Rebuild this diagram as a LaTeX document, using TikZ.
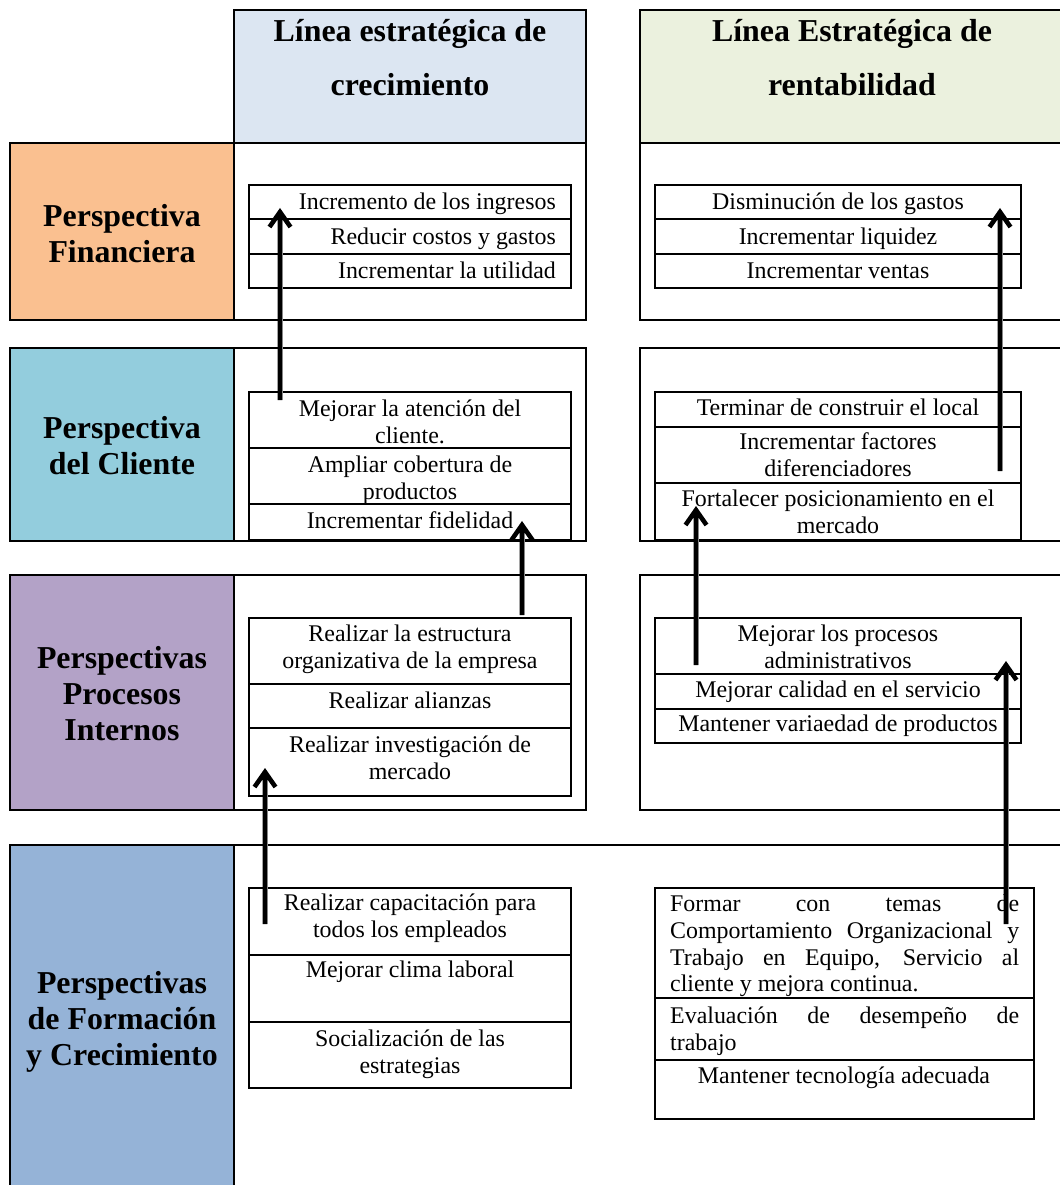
\documentclass[tikz,border=0pt]{standalone}
\usepackage{fontspec}
\setmainfont{Liberation Serif}
\setlength{\parindent}{0pt}
\definecolor{hdrL}{HTML}{DCE6F2}
\definecolor{hdrR}{HTML}{EBF1DE}
\definecolor{finC}{HTML}{FAC090}
\definecolor{cliC}{HTML}{93CDDD}
\definecolor{proC}{HTML}{B3A2C7}
\definecolor{forC}{HTML}{95B3D7}
\begin{document}
\begin{tikzpicture}[x=1bp,y=-1bp,
  frame/.style={draw=black,line width=1.6bp},
  cellline/.style={draw=black,line width=1.5bp},
  body/.style={font=\fontsize{24}{27}\selectfont, inner sep=0pt, anchor=base},
  bodyr/.style={font=\fontsize{24}{27}\selectfont, inner sep=0pt, anchor=base east},
  multi/.style={font=\fontsize{24}{27}\selectfont, inner sep=0pt, anchor=north, yshift=22bp, align=center},
  just/.style={font=\fontsize{24}{27}\selectfont, inner sep=0pt, anchor=north west, yshift=22bp, text width=349bp, align=justify},
  lab/.style={font=\fontsize{32}{36.5}\selectfont\bfseries, inner sep=0pt, anchor=north, yshift=30bp, align=center},
  hdr/.style={font=\fontsize{32}{55}\selectfont\bfseries, inner sep=0pt, anchor=north, yshift=30bp, align=center},
  uparrow/.style={draw=black, line width=4.6bp, line join=miter},
  arrowshade/.style={draw=black!18, line width=5bp, xshift=2.5bp, yshift=-1.5bp}]
\useasboundingbox (0,0) rectangle (1060,1185);
\fill[white] (0,0) rectangle (1060,1185);
% headers
\fill[hdrL] (234,10) rectangle (586,143);
\draw[frame] (234,10) rectangle (586,143);
\fill[hdrR] (640,10) rectangle (1066,143);
\draw[frame] (640,10) rectangle (1066,143);
% row 1
\fill[finC] (10,143) rectangle (234,320);
\draw[frame] (10,143) rectangle (234,320);
\draw[frame] (234,143) rectangle (586,320);
\draw[frame] (640,143) rectangle (1066,320);
% row 2
\fill[cliC] (10,348) rectangle (234,541);
\draw[frame] (10,348) rectangle (234,541);
\draw[frame] (234,348) rectangle (586,541);
\draw[frame] (640,348) rectangle (1066,541);
% row 3
\fill[proC] (10,575) rectangle (234,810);
\draw[frame] (10,575) rectangle (234,810);
\draw[frame] (234,575) rectangle (586,810);
\draw[frame] (640,575) rectangle (1066,810);
% row 4
\fill[forC] (10,845) rectangle (234,1192);
\draw[frame] (10,1192) -- (10,845) -- (1066,845);
\draw[frame] (234,845) -- (234,1192);
% inner cells
\draw[cellline] (249,185) rectangle (571,288) (249,219) -- (571,219) (249,254) -- (571,254);
\draw[cellline] (655,185) rectangle (1021,288) (655,219) -- (1021,219) (655,254) -- (1021,254);
\draw[cellline] (249,392) rectangle (571,540) (249,448) -- (571,448) (249,504) -- (571,504);
\draw[cellline] (655,392) rectangle (1021,540) (655,427) -- (1021,427) (655,483) -- (1021,483);
\draw[cellline] (249,618) rectangle (571,796) (249,684) -- (571,684) (249,728) -- (571,728);
\draw[cellline] (655,618) rectangle (1021,743) (655,674) -- (1021,674) (655,709) -- (1021,709);
\draw[cellline] (249,888) rectangle (571,1088) (249,955) -- (571,955) (249,1022) -- (571,1022);
\draw[cellline] (655,888) rectangle (1034,1119) (655,998) -- (1034,998) (655,1060) -- (1034,1060);
% headers text
\node[hdr] (h1) at (410,41) {\rule{0pt}{30bp}Línea estratégica de\\crecimiento};
\node[hdr] (h2) at (852,41) {\rule{0pt}{30bp}Línea Estratégica de\\rentabilidad};
% labels
\node[lab] (l1) at (122,226) {\rule{0pt}{30bp}Perspectiva\\Financiera};
\node[lab] (l2) at (122,438) {\rule{0pt}{30bp}Perspectiva\\del Cliente};
\node[lab] (l3) at (122,668) {\rule{0pt}{30bp}Perspectivas\\Procesos\\Internos};
\node[lab] (l4) at (122,993) {\rule{0pt}{30bp}Perspectivas\\de Formación\\y Crecimiento};
% row 1 texts
\node[bodyr] (f1) at (556,209) {Incremento de los ingresos};
\node[bodyr] (f2) at (556,244) {Reducir costos y gastos};
\node[bodyr] (f3) at (556,278) {Incrementar la utilidad};
\node[body] (g1) at (838,209) {Disminución de los gastos};
\node[body] (g2) at (838,244) {Incrementar liquidez};
\node[body] (g3) at (838,278) {Incrementar ventas};
% row 2 texts
\node[multi] (c1) at (410,416) {\rule{0pt}{22bp}Mejorar la atención del\\cliente.};
\node[multi] (c2) at (410,472) {\rule{0pt}{22bp}Ampliar cobertura de\\productos};
\node[body] (c3) at (410,528) {Incrementar fidelidad};
\node[body] (d1) at (838,415) {Terminar de construir el local};
\node[multi] (d2) at (838,449) {\rule{0pt}{22bp}Incrementar factores\\diferenciadores};
\node[multi] (d3) at (838,506) {\rule{0pt}{22bp}Fortalecer posicionamiento en el\\mercado};
% row 3 texts
\node[multi] (p1) at (410,641) {\rule{0pt}{22bp}Realizar la estructura\\organizativa de la empresa};
\node[body] (p2) at (410,708) {Realizar alianzas};
\node[multi] (p3) at (410,752) {\rule{0pt}{22bp}Realizar investigación de\\mercado};
\node[multi] (q1) at (838,641) {\rule{0pt}{22bp}Mejorar los procesos\\administrativos};
\node[body] (q2) at (838,697) {Mejorar calidad en el servicio};
\node[body] (q3) at (838,731) {Mantener variaedad de productos};
% row 4 texts
\node[multi] (t1) at (410,910) {\rule{0pt}{22bp}Realizar capacitación para\\todos los empleados};
\node[body] (t2) at (410,977) {Mejorar clima laboral};
\node[multi] (t3) at (410,1046) {\rule{0pt}{22bp}Socialización de las\\estrategias};
\node[just] (u1) at (670,911) {\rule{0pt}{22bp}Formar con temas de\linebreak Comportamiento Organizacional y\linebreak Trabajo en Equipo, Servicio al\linebreak cliente y mejora continua.};
\node[just] (u2) at (670,1023) {\rule{0pt}{22bp}Evaluación de desempeño de\linebreak trabajo};
\node[body] (u3) at (844,1083) {Mantener tecnología adecuada};
% arrows
\coordinate (a1s) at (280,400); \coordinate (a1e) at (280,212);
\coordinate (a2s) at (522,615); \coordinate (a2e) at (522,525);
\coordinate (a3s) at (265,924); \coordinate (a3e) at (265,772);
\coordinate (a4s) at (1000,471); \coordinate (a4e) at (1000,212);
\coordinate (a5s) at (696,665); \coordinate (a5e) at (696,510);
\coordinate (a6s) at (1006,924); \coordinate (a6e) at (1006,665);
\foreach \s/\e in {a1s/a1e,a2s/a2e,a3s/a3e,a4s/a4e,a5s/a5e,a6s/a6e}{
  \draw[arrowshade] (\s) -- (\e);
  \draw[uparrow] (\s) -- (\e) ++(-10.5,15) -- (\e) -- ++(10.5,15);
}
\end{tikzpicture}
\end{document}
